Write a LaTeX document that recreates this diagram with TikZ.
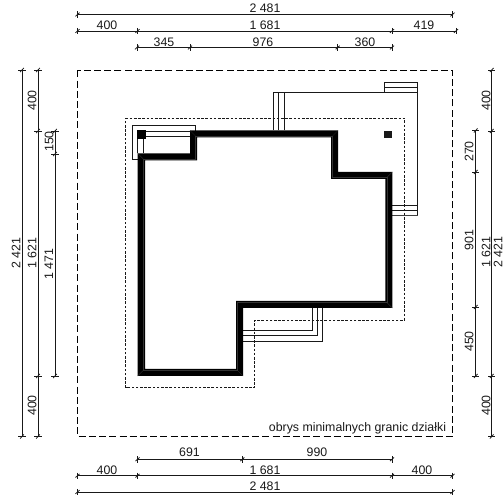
\documentclass[tikz,border=0pt]{standalone}
\usepackage{fontspec}
\setmainfont{Liberation Sans}
\newcommand{\dimH}[2]{%
  \foreach \tx in {#2} {
    \draw[dimline] (\tx,#1-3.2) -- (\tx,#1+3.2);
    \draw[dimline] (\tx-2,#1+1.8) -- (\tx+2,#1-1.8);
  }}
\newcommand{\dimV}[2]{%
  \foreach \ty in {#2} {
    \draw[dimline] (#1-3.6,\ty) -- (#1+3.6,\ty);
    \draw[dimline] (#1-1.8,\ty+2) -- (#1+1.8,\ty-2);
  }}
\tikzset{
  dimline/.style={line width=0.8pt,color=black!90},
  dimtext/.style={inner sep=0pt,text=black!90,font=\fontsize{12.35}{14}\selectfont},
  vtext/.style={dimtext,rotate=90},
  thinline/.style={line width=0.85pt,color=black!90},
  outerdash/.style={line width=0.9pt,dash pattern=on 7pt off 3.2pt},
  innerdot/.style={line width=0.8pt,dash pattern=on 2.6pt off 1.6pt,color=black!90},
}
\begin{document}
\begin{tikzpicture}[x=1pt,y=-1pt]
\useasboundingbox (0,0) rectangle (504,497);
% plot and setback outlines
\draw[outerdash] (77.5,70.5) rectangle (452.5,436.5);
\draw[innerdot] (125.5,118) -- (404.5,118) -- (404.5,320) -- (254.7,320) -- (254.7,387.7) -- (125.5,387.7) -- cycle;
% upper-left porch
\draw[thinline] (137.7,159) -- (132.3,159) -- (132.3,125.5) -- (195.5,125.5) -- (195.5,131);
\draw[thinline] (146,131) -- (190,131);
\draw[thinline] (146,136) -- (190,136);
\draw[thinline] (137.5,138) -- (137.5,153.3);
\draw[thinline] (143.2,138) -- (143.2,153.3);
\fill (137.4,130) rectangle (145.8,138.8);
% upper-right terrace
\draw[thinline] (273.3,130.5) -- (273.3,92.7);
\draw[thinline] (278.7,130.5) -- (278.7,92.7);
\draw[thinline] (284.3,130.5) -- (284.3,92.7);
\draw[line width=1pt,color=black!90] (273.3,92.9) -- (417.7,92.9);
\draw[thinline] (384.3,92.9) -- (384.3,82.3) -- (417.7,82.3) -- (417.7,216);
\draw[line width=1pt,color=black!90] (384.3,87.6) -- (417.7,87.6);
\draw[thinline] (392.3,205.3) -- (417.7,205.3);
\draw[thinline] (392.3,210.7) -- (417.7,210.7);
\draw[line width=1pt,color=black!75] (392.3,216) -- (418,216);
\fill[black!90] (384.3,130.7) rectangle (392.3,138.3);
% lower steps
\draw[thinline] (312.3,308) -- (312.3,330) -- (243,330);
\draw[thinline] (317.4,308) -- (317.4,335.7) -- (243,335.7);
\draw[thinline] (322.7,308) -- (322.7,341) -- (243,341);
% walls
\fill[black,even odd rule]
  (137.7,153.3) -- (190,153.3) -- (190,130.5) -- (338,130.5) -- (338,172) -- (392.3,172) -- (392.3,308) -- (243,308) -- (243,376) -- (137.7,376) -- cycle
  (145,160.3) -- (197,160.3) -- (197,137.5) -- (331,137.5) -- (331,179) -- (385.3,179) -- (385.3,301) -- (236,301) -- (236,369) -- (145,369) -- cycle;
\draw[line width=0.3pt,color=black!80]
  (143.2,158.8) -- (195.5,158.8) -- (195.5,136) -- (332.5,136) -- (332.5,177.5) -- (386.8,177.5) -- (386.8,302.5) -- (237.5,302.5) -- (237.5,370.5) -- (143.2,370.5) -- cycle;
\draw[line width=0.3pt,color=black!80] (137.7,376) -- (143.2,370.5) (243,376) -- (237.5,370.5) (392.3,308) -- (386.8,302.5) (392.3,172) -- (386.8,177.5) (338,130.5) -- (332.5,136) (190,130.5) -- (195.5,136) (137.7,153.3) -- (143.2,158.8);
% horizontal dimensions
\draw[dimline] (77.5,14.5) -- (452.5,14.5);
\dimH{14.5}{77.5,452.5}
\draw[dimline] (77.5,31) -- (456,31);
\dimH{31}{77.5,137.5,392,456}
\draw[dimline] (137,47.5) -- (392,47.5);
\dimH{47.5}{137,190,337.7,392}
\draw[dimline] (137.5,459.3) -- (392,459.3);
\dimH{459.3}{137.5,242.3,392}
\draw[dimline] (77.5,475.7) -- (452.5,475.7);
\dimH{475.7}{77.5,137.5,392,452.5}
\draw[dimline] (77.5,492) -- (452.5,492);
\dimH{492}{77.5,452.5}
% vertical dimensions
\draw[dimline] (22,70) -- (22,436.5);
\dimV{22}{70,436.5}
\draw[dimline] (38,70) -- (38,436.5);
\dimV{38}{70,131,376,436.5}
\draw[dimline] (55,131) -- (55,376);
\dimV{55}{131,154,376}
\draw[dimline] (475.7,130.5) -- (475.7,376);
\dimV{475.7}{130.5,172,307,376}
\draw[dimline] (491.7,70) -- (491.7,436.5);
\dimV{491.7}{70,131,376,436.5}
% labels
\node[dimtext] (t1) at (265,8.5) {2 481};
\node[dimtext] (t2) at (107,25) {400};
\node[dimtext] (t3) at (265,25) {1 681};
\node[dimtext] (t4) at (424,25) {419};
\node[dimtext] (t5) at (164,42) {345};
\node[dimtext] (t6) at (263,42) {976};
\node[dimtext] (t7) at (365,42) {360};
\node[dimtext] (b1) at (189.5,452.5) {691};
\node[dimtext] (b2) at (317,452.5) {990};
\node[dimtext] (b3) at (107,470) {400};
\node[dimtext] (b4) at (265,470) {1 681};
\node[dimtext] (b5) at (422,470) {400};
\node[dimtext] (b6) at (265,486.5) {2 481};
\node[vtext] (l1) at (16,253) {2 421};
\node[vtext] (l2) at (32,253) {1 621};
\node[vtext] (l3) at (49,264) {1 471};
\node[vtext] (l4) at (32,100.5) {400};
\node[vtext] (l5) at (49,141.5) {150};
\node[vtext] (l6) at (32,405.5) {400};
\node[vtext] (r1) at (469,151.5) {270};
\node[vtext] (r2) at (469,240) {901};
\node[vtext] (r3) at (469,341.5) {450};
\node[vtext] (r4) at (486,100.5) {400};
\node[vtext] (r5) at (486,252) {1 621};
\node[vtext] (r6) at (486,405.5) {400};
\node[vtext] (r7) at (498,252) {2 421};
\node[dimtext] (note) at (357.5,428) {obrys minimalnych granic działki};
\end{tikzpicture}
\end{document}
